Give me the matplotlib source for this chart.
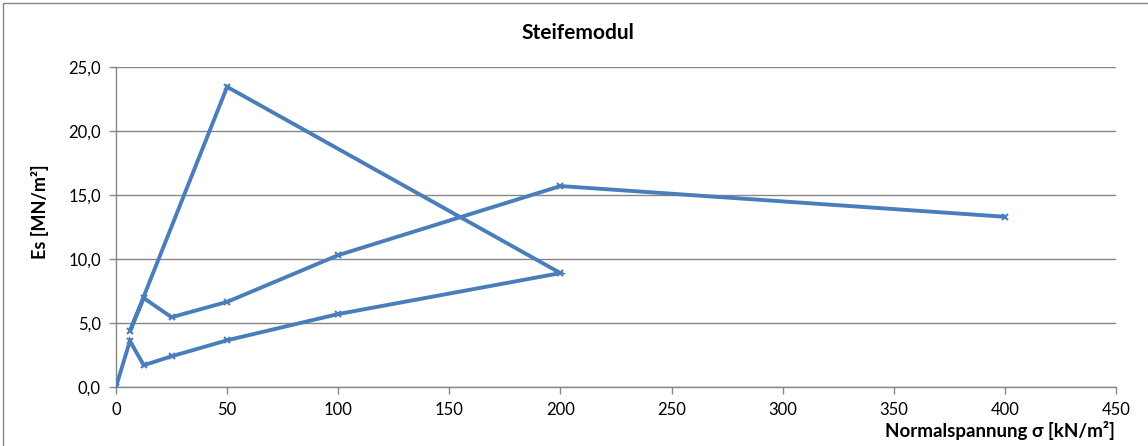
import matplotlib
matplotlib.use("Agg")
import matplotlib.pyplot as plt
from matplotlib.patches import Rectangle

# Normalspannung [kN/m²] und Steifemodul [MN/m²], Reihenfolge wie im Diagramm
sigma = [0, 6.25, 12.5, 25, 50, 100, 200, 50, 6.25, 12.5, 25, 50, 100, 200, 400]
es = [0.0, 3.6, 1.7, 2.4, 3.65, 5.7, 8.9, 23.45, 4.35, 6.95, 5.45, 6.65, 10.3, 15.7, 13.3]

x_ticks = list(range(0, 451, 50))
y_ticks = [0, 5, 10, 15, 20, 25]
y_labels = ["0,0", "5,0", "10,0", "15,0", "20,0", "25,0"]

plt.rcParams['font.family'] = ['Lato', 'DejaVu Sans']

fig = plt.figure(figsize=(11.48, 4.46), dpi=100)
ax = fig.add_axes([116 / 1148, 1 - 387 / 446, 1000 / 1148, 320 / 446])

ax.plot(sigma, es, color='#4A7EBB', linewidth=2.8, marker='x',
        markersize=5, markeredgewidth=1.5, solid_joinstyle='miter', zorder=3)

ax.set_xlim(0, 450)
ax.set_ylim(0, 25)
ax.set_xticks(x_ticks)
ax.set_yticks(y_ticks)
ax.set_yticklabels(y_labels)
ax.tick_params(axis='both', labelsize=12, colors='#868686', labelcolor='black',
               length=5, width=1, direction='out', pad=6)
ax.grid(axis='y', color='#868686', linewidth=1)
ax.set_axisbelow(True)
for side in ['top', 'right']:
    ax.spines[side].set_visible(False)
for side in ['left', 'bottom']:
    ax.spines[side].set_color('#868686')
    ax.spines[side].set_linewidth(1)

fig.text(578 / 1148, 1 - 33 / 446, 'Steifemodul', ha='center', va='center',
         fontsize=15, fontweight='bold')
fig.text(40 / 1148, 1 - 212 / 446, 'Es [MN/m²]', ha='center', va='center',
         rotation=90, fontsize=13, fontweight='bold')
fig.text(1000 / 1148, 1 - 430 / 446, 'Normalspannung σ [kN/m²]', ha='center',
         va='center', fontsize=13.5, fontweight='bold')

# Rahmen um das Diagramm
fig.patches.append(Rectangle((3 / 1148, -0.05), 1.2, 1 - 3 / 446 + 0.05,
                             transform=fig.transFigure, fill=False,
                             edgecolor='#868686', linewidth=1))

fig.savefig('out.png', dpi=100)
